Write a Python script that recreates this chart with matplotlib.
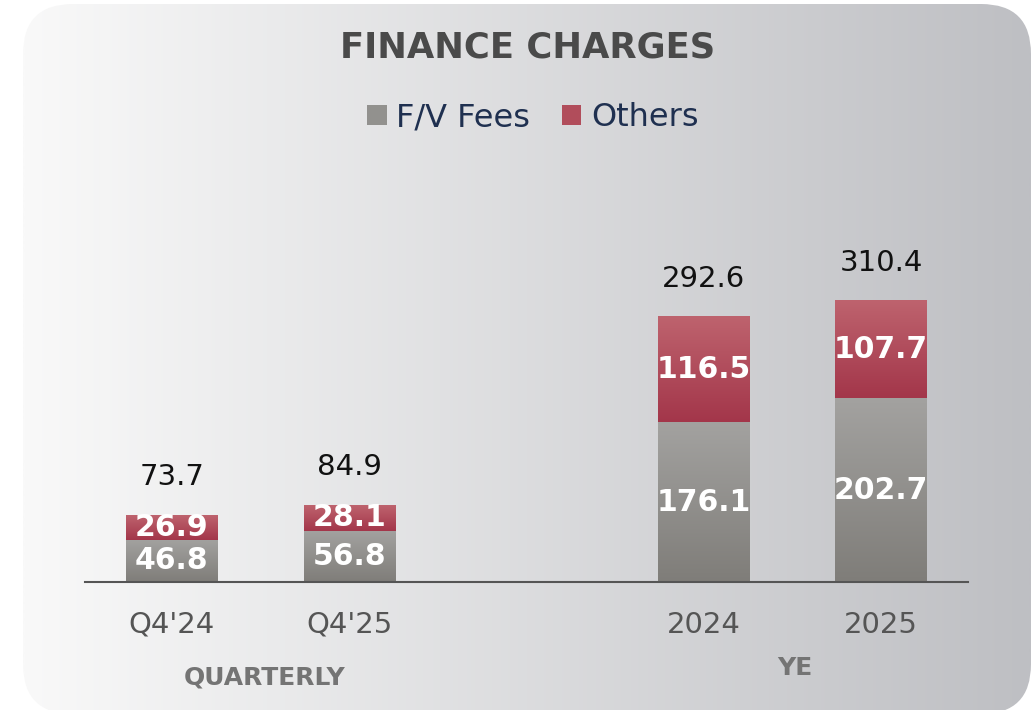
import numpy as np
import matplotlib
matplotlib.use("Agg")
import matplotlib.pyplot as plt
from matplotlib.patches import FancyBboxPatch, Patch
from matplotlib.colors import to_rgb

# data
categories = ["Q4'24", "Q4'25", "2024", "2025"]
positions = [0, 1, 3, 4]
fv_fees = [46.8, 56.8, 176.1, 202.7]
others = [26.9, 28.1, 116.5, 107.7]
totals = [73.7, 84.9, 292.6, 310.4]
group_labels = ["QUARTERLY", "YE"]

W, H = 1036, 710
fig = plt.figure(figsize=(W / 100, H / 100), dpi=100, facecolor="white")


def grad(c1, c2, n=256, horizontal=False):
    a = np.array(to_rgb(c1))
    b = np.array(to_rgb(c2))
    t = np.linspace(0, 1, n)[:, None]
    g = a + (b - a) * t
    if horizontal:
        return g[None, :, :]
    return g[:, None, :]


# rounded card background with gradient
bg = fig.add_axes([0, 0, 1, 1])
bg.set_xlim(0, W)
bg.set_ylim(H, 0)
bg.axis("off")
card = FancyBboxPatch((23, 4), 1008, 710, boxstyle="round,pad=0,rounding_size=50",
                      facecolor="none", edgecolor="none")
bg.add_patch(card)
im = bg.imshow(grad("#f9f9f9", "#bebfc3", horizontal=True), extent=(23, 1031, 714, 4),
               aspect="auto", interpolation="bilinear")
im.set_clip_path(card)
bg.set_xlim(0, W)
bg.set_ylim(H, 0)

# main axes
ax = fig.add_axes([85 / W, (H - 582) / H, (968 - 85) / W, (582 - 250) / H])
ax.set_facecolor("none")
width = 0.515
b1 = ax.bar(positions, fv_fees, width, color="#92918e", zorder=2)
b2 = ax.bar(positions, others, width, bottom=fv_fees, color="#b14d5b", zorder=2)

for bars, (ctop, cbot) in [(b1, ("#a3a2a0", "#7f7d79")), (b2, ("#be636e", "#a3364a"))]:
    for p in bars:
        x0, y0 = p.get_x(), p.get_y()
        ax.imshow(grad(ctop, cbot), extent=(x0, x0 + p.get_width(), y0, y0 + p.get_height()),
                  aspect="auto", zorder=3, interpolation="bilinear")

ax.set_xlim(-0.49, 4.49)
ax.set_ylim(0, 366.4)

for x, f, o, t, c in zip(positions, fv_fees, others, totals, categories):
    ax.text(x, f / 2, f"{f:.1f}", ha="center", va="center", color="white",
            fontsize=21.5, fontweight="bold", zorder=4)
    ax.text(x, f + o / 2, f"{o:.1f}", ha="center", va="center", color="white",
            fontsize=21.5, fontweight="bold", zorder=4)
    ax.annotate(f"{t:.1f}", (x, t), xytext=(0, 38), textcoords="offset pixels",
                ha="center", va="center", fontsize=21, color="#111111")
    ax.annotate(c, (x, 0), xytext=(0, -43), textcoords="offset pixels",
                ha="center", va="center", fontsize=21, color="#555555")

for s in ["top", "right", "left"]:
    ax.spines[s].set_visible(False)
ax.spines["bottom"].set_color("#555555")
ax.spines["bottom"].set_linewidth(1.5)
ax.spines["bottom"].set_zorder(5)
ax.set_xticks([])
ax.set_yticks([])

fig.text(528 / W, 1 - 48 / H, "FINANCE CHARGES", ha="center", va="center",
         fontsize=25.5, fontweight="bold", color="#4a4a4a")
fig.text(265 / W, 1 - 677 / H, group_labels[0], ha="center", va="center",
         fontsize=18, fontweight="bold", color="#747474")
fig.text(795 / W, 1 - 668 / H, group_labels[1], ha="center", va="center",
         fontsize=18, fontweight="bold", color="#747474")

handles = [Patch(facecolor="#92918e", label="F/V Fees"),
           Patch(facecolor="#b14d5b", label="Others")]
leg = fig.legend(handles=handles, loc="center", bbox_to_anchor=(533 / W, 1 - 118 / H),
                 ncol=2, frameon=False, fontsize=23, handlelength=0.6, handleheight=0.6,
                 handletextpad=0.3, columnspacing=1.0)
for t in leg.get_texts():
    t.set_color("#1f3050")

fig.savefig("out.png", dpi=100, facecolor="white")
